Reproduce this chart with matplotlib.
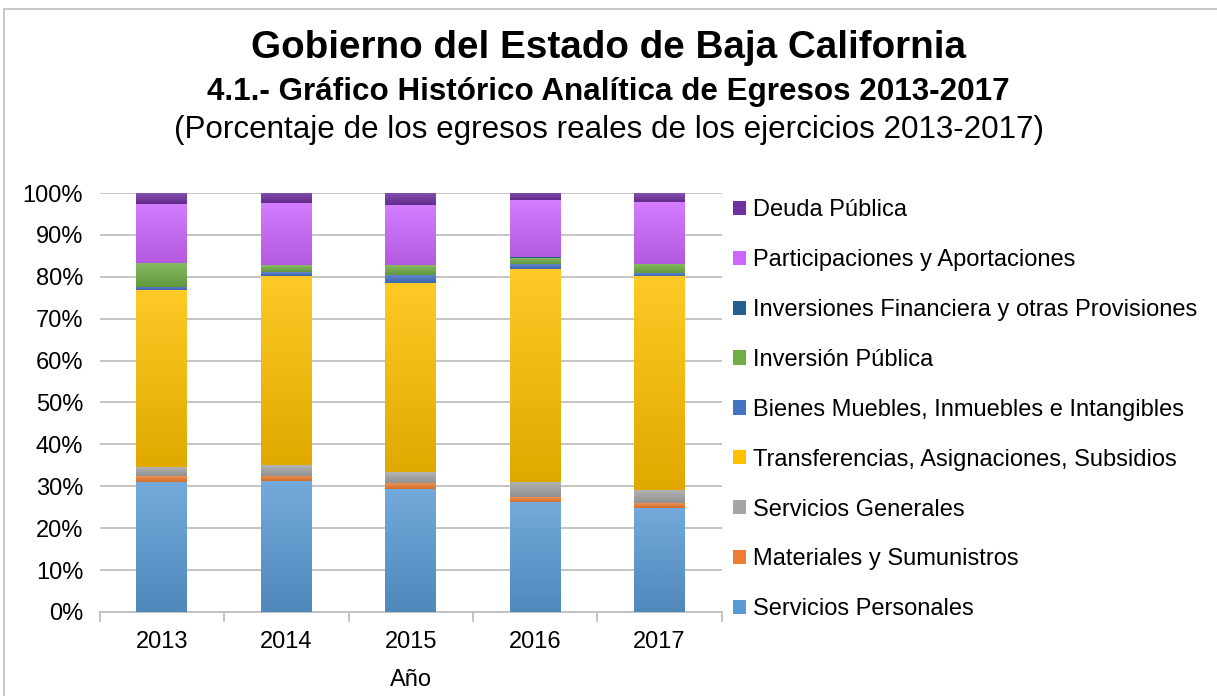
import numpy as np
import matplotlib
matplotlib.use('Agg')
import matplotlib.pyplot as plt
from matplotlib.colors import to_rgb
from matplotlib.patches import Patch, Rectangle
from matplotlib.ticker import PercentFormatter

plt.rcParams['font.family'] = ['Liberation Sans', 'DejaVu Sans']

years = ['2013', '2014', '2015', '2016', '2017']

# porcentajes (de abajo hacia arriba)
servicios_personales = [31.1, 31.3, 29.4, 26.3, 24.9]
materiales = [1.4, 1.2, 1.4, 1.1, 1.1]
servicios_generales = [2.1, 2.6, 2.6, 3.6, 3.1]
transferencias = [42.2, 45.1, 45.1, 50.9, 51.1]
bienes = [0.8, 0.9, 1.9, 1.1, 0.7]
inversion_publica = [5.6, 1.6, 2.3, 1.5, 2.1]
inversiones_financieras = [0.1, 0.1, 0.1, 0.3, 0.1]
participaciones = [14.1, 14.8, 14.3, 13.5, 14.8]
deuda = [2.6, 2.4, 2.9, 1.7, 2.1]

series = [
    ('Servicios Personales', servicios_personales, '#5B9BD5'),
    ('Materiales y Sumunistros', materiales, '#ED7D31'),
    ('Servicios Generales', servicios_generales, '#A5A5A5'),
    ('Transferencias, Asignaciones, Subsidios', transferencias, '#FFC000'),
    ('Bienes Muebles, Inmuebles e Intangibles', bienes, '#4472C4'),
    ('Inversión Pública', inversion_publica, '#70AD47'),
    ('Inversiones Financiera y otras Provisiones', inversiones_financieras, '#255E91'),
    ('Participaciones y Aportaciones', participaciones, '#CC66FF'),
    ('Deuda Pública', deuda, '#7030A0'),
]


def gradient_fill(ax, bar, color):
    # degradado vertical: claro arriba, oscuro abajo
    c = np.array(to_rgb(color))
    top = c + (1 - c) * 0.15
    bot = c * 0.88
    t = np.linspace(0, 1, 64)[:, None]
    img = (bot * (1 - t) + top * t)[:, None, :]
    x0, y0 = bar.get_x(), bar.get_y()
    w, h = bar.get_width(), bar.get_height()
    if h <= 0:
        return
    im = ax.imshow(img, extent=(x0, x0 + w, y0, y0 + h), origin='lower',
                   aspect='auto', zorder=bar.get_zorder(), interpolation='bilinear')
    im.set_clip_path(bar)


fig = plt.figure(figsize=(12.17, 6.96), dpi=100)
ax = fig.add_axes([0.082, 0.1207, 0.511, 0.602])

x = np.arange(len(years))
bottom = np.zeros(len(years))
handles = []
for name, vals, color in series:
    vals = np.array(vals) / 100.0
    bars = ax.bar(x, vals, width=0.41, bottom=bottom, color=color, zorder=3, linewidth=0)
    for b in bars:
        gradient_fill(ax, b, color)
    bottom += vals
    handles.append(Patch(facecolor=color, label=name))

ax.set_ylim(0, 1.0)
ax.set_xlim(-0.5, 4.5)
ax.yaxis.set_major_locator(plt.MultipleLocator(0.1))
ax.yaxis.set_major_formatter(PercentFormatter(1.0, decimals=0))
ax.grid(axis='y', color='#BFBFBF', linewidth=1.3, zorder=0)
ax.set_axisbelow(True)
for s in ['top', 'right', 'left']:
    ax.spines[s].set_visible(False)
ax.spines['bottom'].set_color('#BFBFBF')
ax.spines['bottom'].set_linewidth(1.3)

ax.set_xticks(x)
ax.set_xticklabels(years, fontsize=17)
ax.tick_params(axis='x', length=0, pad=14)
ax.tick_params(axis='y', length=0, labelsize=17, pad=12)
for xb in np.arange(-0.5, 5.0, 1.0):
    ax.plot([xb, xb], [0, -0.022], color='#BFBFBF', lw=1.3, clip_on=False, zorder=2)
ax.set_xlabel('Año', fontsize=17, labelpad=11)

fig.legend(handles=handles[::-1], loc='upper left', bbox_to_anchor=(0.6023, 0.7136),
           frameon=False, fontsize=17, handlelength=0.55, handleheight=0.55,
           handletextpad=0.28, labelspacing=1.18, borderpad=0, borderaxespad=0)

fig.text(0.5, 0.931, 'Gobierno del Estado de Baja California', ha='center', va='center',
         fontsize=27.8, fontweight='bold')
fig.text(0.5, 0.868, '4.1.- Gráfico Histórico Analítica de Egresos 2013-2017', ha='center',
         va='center', fontsize=22.6, fontweight='bold')
fig.text(0.5, 0.813, '(Porcentaje de los egresos reales de los ejercicios 2013-2017)',
         ha='center', va='center', fontsize=22.6)

fig.patches.append(Rectangle((0.003, -0.01), 1.2, 0.997, transform=fig.transFigure,
                             fill=False, edgecolor='#BFBFBF', linewidth=1.2))

fig.savefig('out.png', dpi=100)
